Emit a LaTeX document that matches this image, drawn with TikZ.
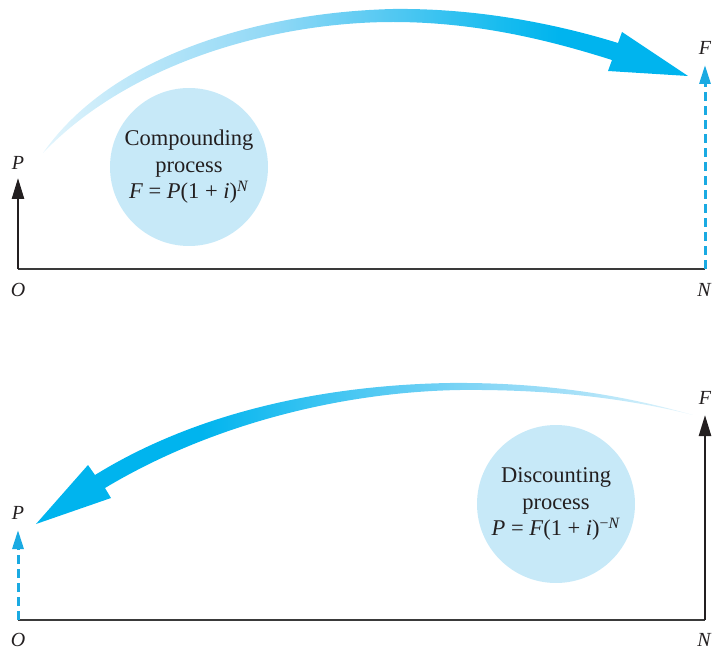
\documentclass[tikz,border=0pt]{standalone}
\usepackage{fontspec}
\setmainfont{Liberation Serif}
\usetikzlibrary{arrows.meta}
\definecolor{inkblk}{HTML}{231F20}
\definecolor{axisgray}{HTML}{3A3A3A}
\definecolor{circfill}{HTML}{C7E9F8}
\definecolor{cyansat}{HTML}{00B4EE}
\definecolor{dashcyan}{HTML}{1AAAE2}
\definecolor{ta}{HTML}{E4F5FC}
\definecolor{tb}{HTML}{BDE7F9}
\definecolor{tc}{HTML}{92D9F6}
\definecolor{td}{HTML}{52C8F2}
\definecolor{te}{HTML}{18BCEF}
\definecolor{ba}{HTML}{40C5F2}
\definecolor{bb}{HTML}{62CDF4}
\definecolor{bc}{HTML}{88D7F6}
\definecolor{bd}{HTML}{A8E1F8}
\definecolor{be}{HTML}{E8F6FC}
\pgfdeclarehorizontalshading{topgrad}{100bp}{color(0bp)=(ta); color(25bp)=(ta); color(31.7bp)=(tb); color(42.6bp)=(tc); color(52.1bp)=(td); color(60.4bp)=(te); color(65bp)=(cyansat); color(100bp)=(cyansat)}
\pgfdeclarehorizontalshading{botgrad}{100bp}{color(0bp)=(cyansat); color(37.5bp)=(cyansat); color(47.4bp)=(ba); color(53.5bp)=(bb); color(59.5bp)=(bc); color(66.4bp)=(bd); color(75bp)=(be); color(100bp)=(be)}
\tikzset{
  axisline/.style={draw=axisgray, line width=1.3pt},
  blkarrow/.style={draw=inkblk, line width=2.5pt, -{Triangle[length=21pt, width=12pt]}},
  dasharrow/.style={draw=dashcyan, line width=3pt, dash pattern=on 9pt off 5pt, -{Triangle[length=19pt, width=11pt]}},
  lbl/.style={font=\fontsize{20}{24}\selectfont\itshape, text=inkblk, inner sep=0pt},
  bubble/.style={circle, fill=circfill, minimum size=158pt, inner sep=0pt, align=center, text=inkblk, font=\fontsize{22.5}{26.5}\selectfont}
}
\begin{document}
\begin{tikzpicture}[x=1pt, y=-1pt]
\useasboundingbox (0,0) rectangle (713,650);
% ---------- top panel ----------
\coordinate (O1) at (18,269);
\coordinate (N1) at (705,269);
\coordinate (P1) at (18,178);
\coordinate (F1) at (705,65);
\node[bubble] (c1) at (189,167) {Compounding\\process\\\textit{F} = \textit{P}(1 + \textit{i})\textsuperscript{\textit{N}}};
\draw[axisline] (O1) -- (N1);
\draw[blkarrow] (O1) -- (P1);
\draw[dasharrow] (N1) -- (F1);
\node[lbl] (lP1) at (18,163) {P};
\node[lbl] (lO1) at (18,290) {O};
\node[lbl] (lN1) at (704,290) {N};
\node[lbl] (lF1) at (705,48) {F};
\coordinate (S1) at (43,153);
\coordinate (T1) at (688,76);
\shade[shading=topgrad] (S1) .. controls (115,50) and (270,12) .. (393,9)
  .. controls (480,8) and (560,25) .. (618,43) -- (622,32) -- (T1) -- (608,71) -- (612,60)
  .. controls (555,42) and (480,22) .. (393,22)
  .. controls (275,22) and (130,62) .. (S1) -- cycle;
% ---------- bottom panel ----------
\coordinate (O2) at (18,620);
\coordinate (N2) at (705,620);
\coordinate (P2) at (18,530);
\coordinate (F2) at (705,415);
\node[bubble] (c2) at (556,504) {Discounting\\process\\\textit{P} = \textit{F}(1 + \textit{i})\textsuperscript{−\textit{N}}};
\draw[axisline] (O2) -- (N2);
\draw[blkarrow] (N2) -- (F2);
\draw[dasharrow] (O2) -- (P2);
\node[lbl] (lP2) at (18,513) {P};
\node[lbl] (lO2) at (18,640) {O};
\node[lbl] (lN2) at (704,640) {N};
\node[lbl] (lF2) at (705,398) {F};
\coordinate (T2) at (36,524);
\coordinate (E2) at (693,415);
\shade[shading=botgrad] (T2) -- (88,465) -- (95,475)
  .. controls (200,410) and (330,385) .. (450,383)
  .. controls (560,382) and (640,400) .. (E2)
  .. controls (645,403) and (570,389) .. (460,390)
  .. controls (340,392) and (210,425) .. (105,488) -- (111,498) -- cycle;
\end{tikzpicture}
\end{document}
